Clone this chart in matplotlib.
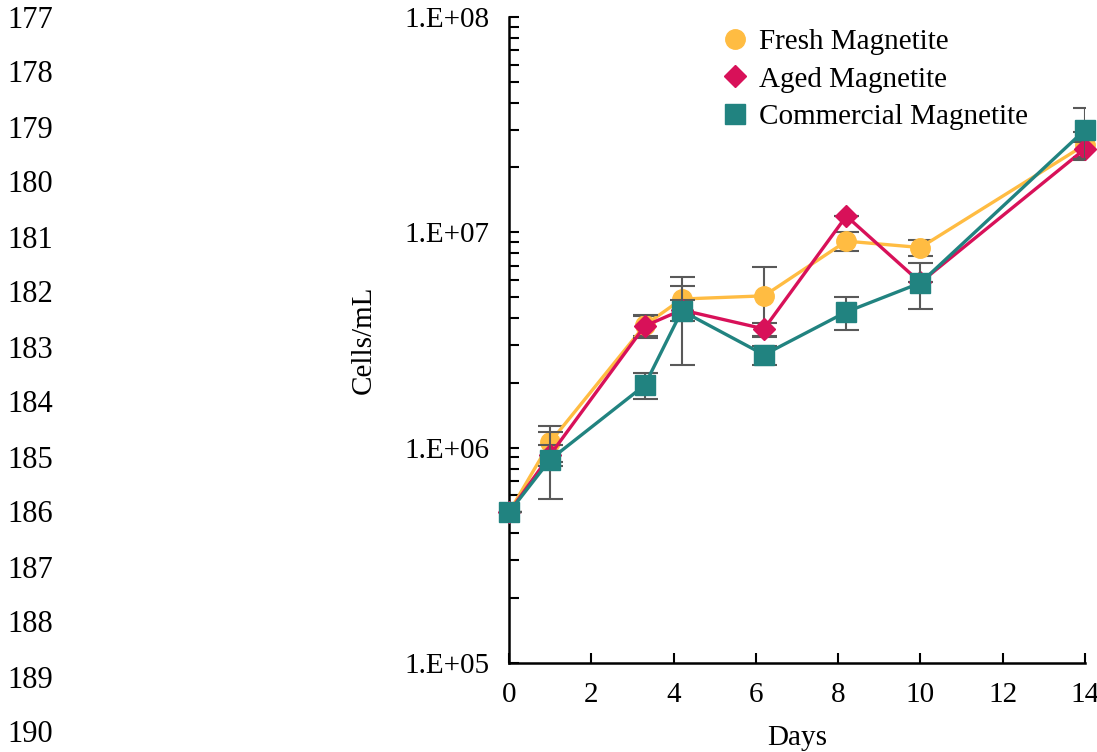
import numpy as np
import matplotlib.pyplot as plt
from matplotlib.lines import Line2D
from matplotlib.ticker import LogLocator, FixedLocator, NullFormatter

plt.rcParams['font.family'] = ['Liberation Serif', 'DejaVu Serif']

# 数据
days = [0, 1, 3.3, 4.2, 6.2, 8.2, 10, 14]
fresh = [5.0e5, 1.06e6, 3.7e6, 4.9e6, 5.07e6, 9.1e6, 8.5e6, 2.55e7]
fresh_err = [0, 0.2e6, 0.4e6, 0.75e6, 1.8e6, 0.9e6, 0.7e6, 0.38e7]
aged = [5.0e5, 9.25e5, 3.67e6, 4.36e6, 3.56e6, 1.19e7, 5.85e6, 2.44e7]
aged_err = [0, 0.1e6, 0.45e6, 0.5e6, 0.25e6, 0, 0, 0.2e7]
comm = [5.0e5, 8.8e5, 1.95e6, 4.32e6, 2.7e6, 4.27e6, 5.82e6, 2.99e7]
comm_err = [0, 0.3e6, 0.27e6, 1.9e6, 0.28e6, 0.75e6, 1.4e6, 0.8e7]
labels = ['Fresh Magnetite', 'Aged Magnetite', 'Commercial Magnetite']
line_nums = list(range(177, 191))

fig = plt.figure(figsize=(10.97, 7.52), dpi=100)
ax = fig.add_axes([0.464, 0.1184, 0.525, 0.859])

ekw = dict(ecolor='#595959', elinewidth=1.5, capsize=9, capthick=1.5)
styles = [('#FFBC42', 'o', 14), ('#D81159', 'D', 11), ('#218380', 's', 15)]
series = [(fresh, fresh_err), (aged, aged_err), (comm, comm_err)]
for i, ((y, e), (c, m, ms)) in enumerate(zip(series, styles)):
    lines = ax.errorbar(days, y, yerr=e, color=c, marker=m, markersize=ms,
                        lw=2.4, zorder=2 + i, **ekw)
    lines[0].set_clip_on(False)

ax.set_yscale('log')
ax.set_ylim(1e5, 1e8)
ax.set_xlim(0, 14)
ax.set_xticks(range(0, 15, 2))
ax.yaxis.set_major_locator(FixedLocator([1e5, 1e6, 1e7, 1e8]))
ax.set_yticklabels(['1.E+05', '1.E+06', '1.E+07', '1.E+08'])
ax.yaxis.set_minor_locator(LogLocator(base=10, subs=np.arange(2, 10)))
ax.yaxis.set_minor_formatter(NullFormatter())

for s in ['top', 'right']:
    ax.spines[s].set_visible(False)
for s in ['left', 'bottom']:
    ax.spines[s].set_linewidth(1.8)
ax.tick_params(axis='both', which='both', direction='in', length=7, width=1.5, labelsize=21)
ax.tick_params(axis='x', pad=14)
ax.tick_params(axis='y', pad=14)

ax.set_xlabel('Days', fontsize=21, labelpad=12)
ax.set_ylabel('Cells/mL', fontsize=21, labelpad=20)

handles = [Line2D([], [], ls='none', color=c, marker=m, markersize=ms) for c, m, ms in styles]
ax.legend(handles, labels, loc='upper left', bbox_to_anchor=(0.373, 0.982), frameon=False,
          fontsize=21, handletextpad=0.4, handlelength=0.8, labelspacing=0.38,
          borderpad=0, borderaxespad=0)

# 左侧行号
for i, n in enumerate(line_nums):
    fig.text(0.007, 1 - (20 + 55 * i) / 752, str(n), fontsize=22, va='center', ha='left')

plt.savefig('out.png', dpi=100)
